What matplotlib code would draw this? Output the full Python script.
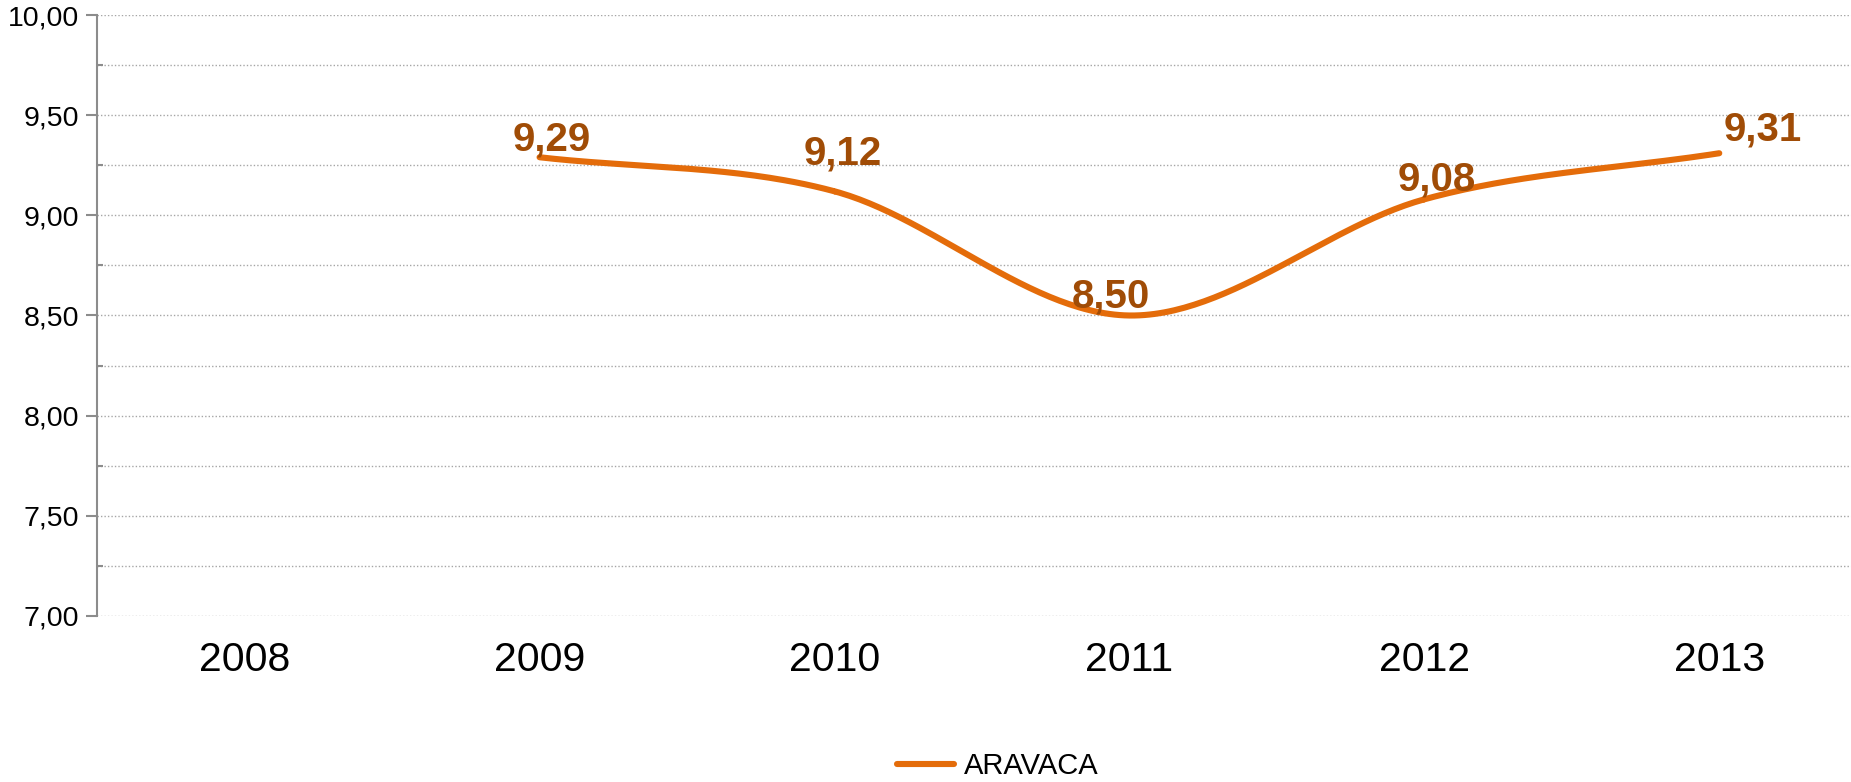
import numpy as np
import matplotlib
matplotlib.use("Agg")
import matplotlib.pyplot as plt
from matplotlib.ticker import MultipleLocator, FuncFormatter

plt.rcParams['font.family'] = ['Liberation Sans', 'DejaVu Sans']

years = ['2008', '2009', '2010', '2011', '2012', '2013']
aravaca = [np.nan, 9.29, 9.12, 8.50, 9.08, 9.31]
series_name = 'ARAVACA'

line_color = '#E46C0A'
label_color = '#A04C06'

# label offsets in points (dx, dy) from each data point to the label centre
label_offsets = [None, (9, 13), (6, 27), (-13, 14), (9, 14), (31, 17)]


def smooth(xs, ys, n=60):
    """Catmull-Rom smoothing through the given points."""
    xs = np.asarray(xs, float)
    ys = np.asarray(ys, float)
    px = np.concatenate([[2 * xs[0] - xs[1]], xs, [2 * xs[-1] - xs[-2]]])
    py = np.concatenate([[2 * ys[0] - ys[1]], ys, [2 * ys[-1] - ys[-2]]])
    out_x, out_y = [], []
    for i in range(1, len(px) - 2):
        t = np.linspace(0, 1, n)
        for arr, src in ((out_x, px), (out_y, py)):
            p0, p1, p2, p3 = src[i - 1], src[i], src[i + 1], src[i + 2]
            arr.extend(0.5 * ((2 * p1) + (-p0 + p2) * t +
                              (2 * p0 - 5 * p1 + 4 * p2 - p3) * t ** 2 +
                              (-p0 + 3 * p1 - 3 * p2 + p3) * t ** 3))
    return np.array(out_x), np.array(out_y)


fig = plt.figure(figsize=(18.51, 7.82), dpi=100)
ax = fig.add_axes([0.0525, 0.2123, 0.956, 0.7685])

x_idx = np.arange(len(years))
valid = ~np.isnan(aravaca)
sx, sy = smooth(x_idx[valid], np.array(aravaca)[valid])
ax.plot(sx, sy, color=line_color, lw=4.4, solid_capstyle='round', label=series_name)

for xi, v, off in zip(x_idx, aravaca, label_offsets):
    if np.isnan(v):
        continue
    ax.annotate(f"{v:.2f}".replace('.', ','), (xi, v), xytext=off,
                textcoords='offset points', ha='center', va='center',
                fontsize=29, fontweight='bold', color=label_color)

ax.set_xlim(-0.5, len(years) - 0.5)
ax.set_ylim(7.0, 10.0)
ax.set_xticks(x_idx)
ax.set_xticklabels(years, fontsize=29.5)
ax.tick_params(axis='x', length=0, pad=18)

ax.yaxis.set_major_locator(MultipleLocator(0.5))
ax.yaxis.set_minor_locator(MultipleLocator(0.25))
ax.yaxis.set_major_formatter(FuncFormatter(lambda v, p: f"{v:.2f}".replace('.', ',')))
ax.tick_params(axis='y', which='major', direction='out', length=8, width=1.5,
               color='#8c8c8c', labelsize=20.5, pad=5)
ax.tick_params(axis='y', which='minor', direction='in', length=4, width=1.5,
               color='#8c8c8c')

ax.grid(True, which='both', axis='y', linestyle=(0, (1, 1.5)), color='#a6a6a6', lw=1)
ax.set_axisbelow(True)
for s in ('top', 'right', 'bottom'):
    ax.spines[s].set_visible(False)
ax.spines['left'].set_color('#8c8c8c')
ax.spines['left'].set_linewidth(1.5)

fig.legend(loc='center', bbox_to_anchor=(0.539, 0.02), frameon=False,
           fontsize=21, handlelength=1.95, handletextpad=0.35)

fig.savefig('out.png', dpi=100)
